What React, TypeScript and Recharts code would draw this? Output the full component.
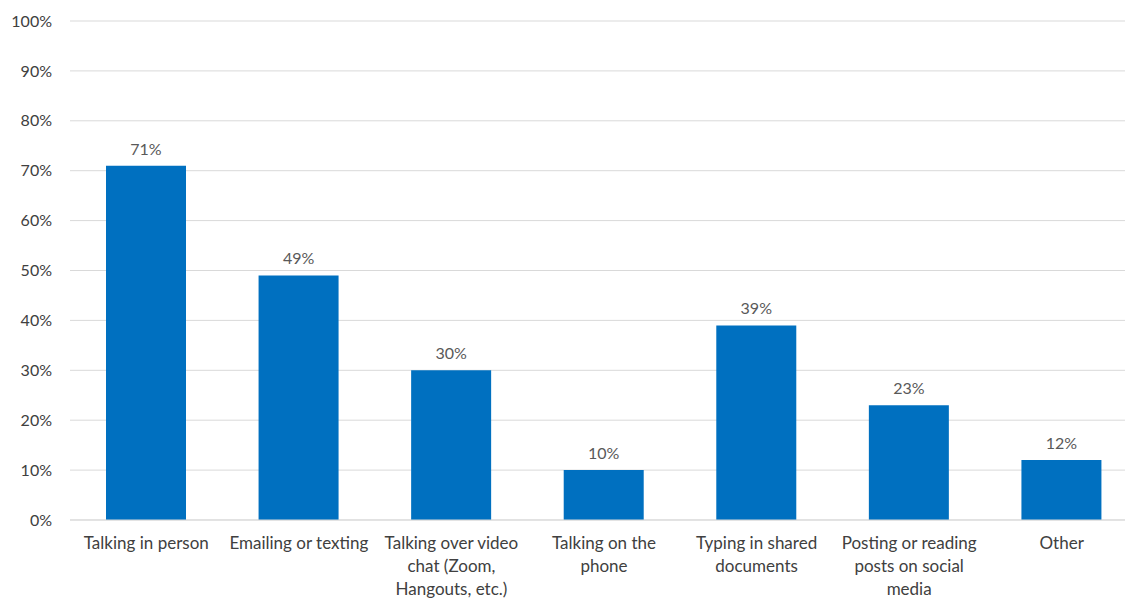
import React from "react";
import { BarChart, Bar, XAxis, YAxis, CartesianGrid, LabelList, Text } from "recharts";

const categories = [
  "Talking in person",
  "Emailing or texting",
  "Talking over video chat (Zoom, Hangouts, etc.)",
  "Talking on the phone",
  "Typing in shared documents",
  "Posting or reading posts on social media",
  "Other",
];
const values = [71, 49, 30, 10, 39, 23, 12];
const yTicks = [0, 10, 20, 30, 40, 50, 60, 70, 80, 90, 100];

const data = categories.map((c, i) => ({ name: c, value: values[i] }));

const FONT = "Lato, 'Liberation Sans', sans-serif";

const CategoryTick = (props: any) => {
  const { x, y, payload } = props;
  return (
    <Text
      x={x}
      y={y + 17}
      width={145}
      textAnchor="middle"
      verticalAnchor="start"
      lineHeight={23}
      style={{ fontSize: 17, fontFamily: FONT }}
      fill="#404040"
    >
      {payload.value}
    </Text>
  );
};

export default function App() {
  return (
    <div
      style={{
        position: "fixed",
        left: 0,
        top: 0,
        width: 1125,
        height: 598,
        overflow: "hidden",
        background: "#fff",
      }}
    >
      <BarChart
        width={1140}
        height={598}
        data={data}
        margin={{ top: 21, right: 2, bottom: 0, left: 0 }}
      >
        <CartesianGrid vertical={false} stroke="#d9d9d9" strokeWidth={1} />
        <XAxis
          dataKey="name"
          axisLine={{ stroke: "#d9d9d9" }}
          tickLine={false}
          tickSize={0}
          tickMargin={0}
          height={78}
          interval={0}
          tick={<CategoryTick />}
        />
        <YAxis
          domain={[0, 100]}
          ticks={yTicks}
          width={70}
          axisLine={false}
          tickLine={false}
          tickSize={0}
          tickMargin={18}
          tickFormatter={(v: number) => `${v}%`}
          tick={{ fontSize: 16, fontFamily: FONT, fill: "#404040" }}
        />
        <Bar dataKey="value" fill="#0070C0" barSize={80} isAnimationActive={false}>
          <LabelList
            dataKey="value"
            position="top"
            offset={11}
            formatter={(v: number) => `${v}%`}
            style={{ fontSize: 16, fontFamily: FONT, fill: "#595959" }}
          />
        </Bar>
      </BarChart>
    </div>
  );
}
